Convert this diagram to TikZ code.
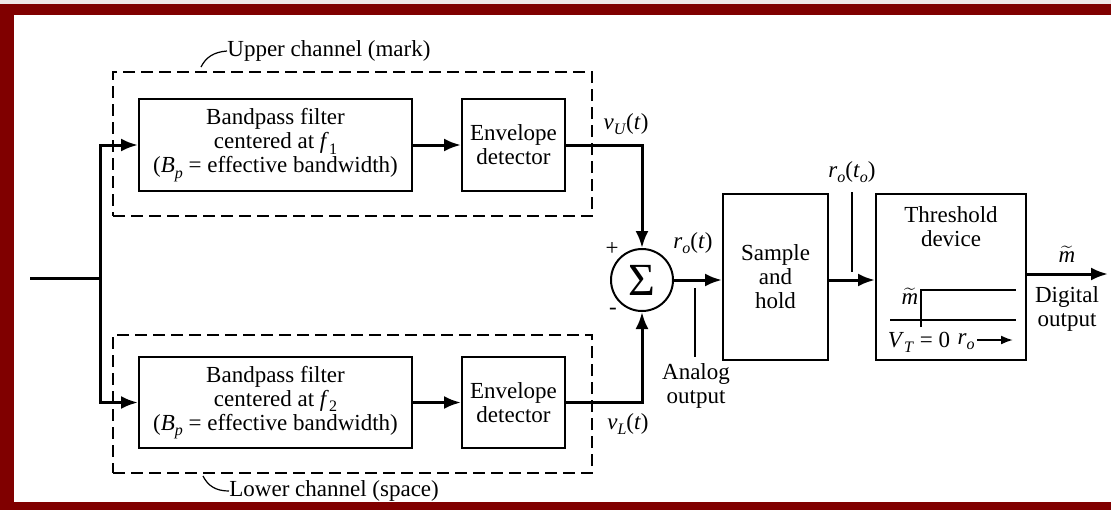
\documentclass[tikz,border=0pt]{standalone}
\usepackage{fontspec}
\setmainfont{Liberation Serif}
\usetikzlibrary{arrows.meta}
\definecolor{framered}{RGB}{128,0,0}
\definecolor{toplight}{RGB}{240,232,232}
\newcommand\dgsize{\fontsize{11.5}{12}\selectfont}
\newcommand\dsub[1]{\raisebox{-0.5ex}{\fontsize{8}{8}\selectfont #1}}
\newcommand\mtil{$\widetilde{\mathit{m}}$}
\lineskiplimit=-20pt
\begin{document}
\begin{tikzpicture}[x=0.5pt,y=-0.5pt,
  every node/.style={font=\dgsize, inner sep=0pt},
  block/.style={draw, line width=1pt, align=center},
  chan/.style={draw, dash pattern=on 6pt off 3pt, line width=1pt},
  wire/.style={line width=1.5pt},
  arr/.style={line width=1.5pt, -{Latex[length=8.5pt,width=6.5pt]}},
  thinline/.style={line width=0.6pt},
  lbl/.style={align=center}]
\useasboundingbox (0,0) rectangle (1111,510);
\fill[white] (0,0) rectangle (1111,510);
\fill[toplight] (0,0) rectangle (1111,4);
\fill[framered] (0,4) rectangle (1111,15);
\fill[framered] (0,4) rectangle (14,510);
\fill[framered] (0,502) rectangle (1111,510);

% channels
\node[chan, minimum width=239.5pt, minimum height=72pt] (chU) at (352.5,144) {};
\node[chan, minimum width=239.5pt, minimum height=69pt] (chL) at (352.5,404) {};

% blocks
\node[block, minimum width=136.5pt, minimum height=46pt] (fU) at (275.5,145)
  {Bandpass filter\\centered at \textit{f}\dsub{1}\\(\textit{B}\dsub{\textit{p}} = effective bandwidth)};
\node[block, minimum width=51.5pt, minimum height=46pt] (eU) at (513.5,145) {Envelope\\detector};
\node[block, minimum width=136.5pt, minimum height=45.5pt] (fL) at (275.5,402.5)
  {Bandpass filter\\centered at \textit{f}\dsub{2}\\(\textit{B}\dsub{\textit{p}} = effective bandwidth)};
\node[block, minimum width=51.5pt, minimum height=45.5pt] (eL) at (513.5,402.5) {Envelope\\detector};
\node[draw, circle, line width=1pt, minimum size=31pt] (sum) at (642,280) {\fontsize{23}{23}\selectfont Σ};
\node[block, minimum width=52.5pt, minimum height=83pt] (sh) at (775.5,277) {Sample\\and\\hold};
\node[block, minimum width=75pt, minimum height=83pt] (th) at (951,277) {};
\node[lbl] (thT) at (951,227) {Threshold\\device};

% connectors
\coordinate (in) at (30,278);
\coordinate (j) at (100,278);
\draw[wire] (in) -- (j);
\draw[arr] (j) |- (fU.west);
\draw[arr] (j) |- (fL.west);
\draw[arr] (fU) -- (eU);
\draw[arr] (fL) -- (eL);
\draw[arr] (eU.east) -| (sum.north);
\draw[arr] (eL.east) -| (sum.south);
\draw[arr] (sum.east) -- (sh.west |- sum.east);
\draw[arr] (sh.east |- sum.east) -- (th.west |- sum.east);
\coordinate (out) at (1108,274);
\draw[arr] (th.east |- out) -- (out);

% labels
\node (vU) at (626,124) {\textit{v}\dsub{\textit{U}}(\textit{t})};
\node (vL) at (628,424) {\textit{v}\dsub{\textit{L}}(\textit{t})};
\node (plus) at (612,249) {+};
\node (minus) at (613,311) {-};
\node (ro) at (693,243) {\textit{r}\dsub{\textit{o}}(\textit{t})};
\coordinate (a1) at (695,288);
\coordinate (a2) at (695,357);
\draw[thinline] (a1) -- (a2);
\node[lbl] (an) at (696,386) {Analog\\output};
\node (rot) at (852,172) {\textit{r}\dsub{\textit{o}}(\textit{t}\dsub{\textit{o}})};
\coordinate (b1) at (852,192);
\coordinate (b2) at (852,272);
\draw[thinline] (b1) -- (b2);
\node (mt) at (1067,254) {\mtil};
\node[lbl] (dig) at (1067,309) {Digital\\output};

% threshold characteristic
\coordinate (ax1) at (890,320);
\coordinate (ax2) at (1016,320);
\draw[line width=1pt] (ax1) -- (ax2);
\coordinate (s1) at (921,327);
\coordinate (s2) at (921,290);
\coordinate (s3) at (1016,290);
\draw[line width=1.2pt] (s1) -- (s2) -- (s3);
\node (mi) at (910,296) {\mtil};
\node (vt) at (919,342) {\textit{V}\dsub{\textit{T}} = 0};
\node (rr) at (966,342) {\textit{r}\dsub{\textit{o}}};
\coordinate (r1) at (977,340);
\coordinate (r2) at (1013,340);
\draw[line width=1pt, -{Latex[length=6pt,width=4.5pt]}] (r1) -- (r2);

% channel captions
\node[anchor=west] (uc) at (227,51) {Upper channel (mark)};
\coordinate (uh) at (201,67);
\draw[thinline] (uh) .. controls (206,57) and (214,52) .. (uc.west);
\node[anchor=west] (lc) at (229,491) {Lower channel (space)};
\coordinate (lh) at (203,476);
\draw[thinline] (lh) .. controls (208,486) and (216,491) .. (lc.west);
\end{tikzpicture}
\end{document}
